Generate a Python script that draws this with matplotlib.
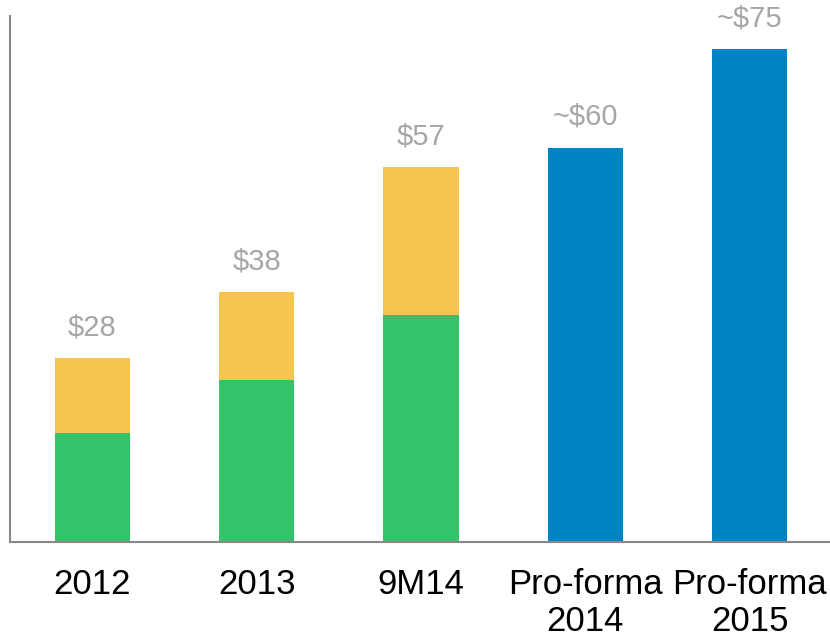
import matplotlib.pyplot as plt

plt.rcParams['font.family'] = ['Liberation Sans', 'DejaVu Sans']

# Values in $
categories = ['2012', '2013', '9M14', 'Pro-forma\n2014', 'Pro-forma\n2015']
green_vals = [16.6, 24.7, 34.5, 0, 0]
yellow_vals = [11.4, 13.3, 22.5, 0, 0]
blue_vals = [0, 0, 0, 60, 75]
totals = [28, 38, 57, 60, 75]
labels = ['$28', '$38', '$57', '~$60', '~$75']

fig = plt.figure(figsize=(8.3, 6.39), dpi=100)
ax = fig.add_axes([10 / 830, 97 / 639, 820 / 830, 526 / 639])

x = range(len(categories))
width = 0.457
ax.bar(x, green_vals, width, color='#33c46a')
ax.bar(x, yellow_vals, width, bottom=green_vals, color='#f5c54e')
ax.bar(x, blue_vals, width, color='#0083c4')

# value labels above bars
for i, t in enumerate(totals):
    ax.annotate(labels[i], (i, t), xytext=(0, 12), textcoords='offset points',
                ha='center', va='bottom', fontsize=21, color='#a6a6a6')

ax.set_xlim(-0.502, 4.49)
ax.set_ylim(0, 80.0)
ax.set_xticks(list(x))
ax.set_xticklabels(categories, fontsize=25, color='black', linespacing=1.12)
ax.tick_params(axis='x', length=0, pad=19)
ax.set_yticks([])

for side in ['top', 'right']:
    ax.spines[side].set_visible(False)
for side in ['left', 'bottom']:
    ax.spines[side].set_color('#888888')
    ax.spines[side].set_linewidth(1.5)

fig.savefig('out.png', dpi=100)
